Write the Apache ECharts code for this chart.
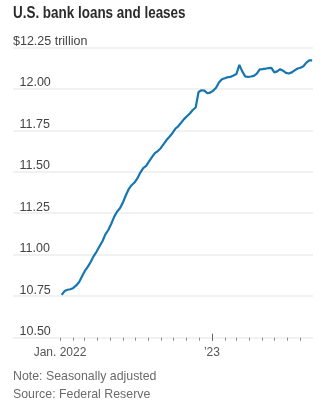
<!DOCTYPE html>
<html><head><meta charset="utf-8">
<script src="https://cdn.jsdelivr.net/npm/echarts@6/dist/echarts.min.js"></script>
<style>html,body{margin:0;padding:0;background:#fff}#c{width:336px;height:410px}</style>
</head><body><div id="c"></div>
<script>
const titleText = 'U.S. bank loans and leases';
const noteText = 'Note: Seasonally adjusted';
const sourceText = 'Source: Federal Reserve';

// weekly observations (Wednesdays), first week and count
const firstWeek = '2022-01-05';
const values = [
  10.758, 10.781, 10.789, 10.792, 10.800, 10.815, 10.836, 10.870, 10.904, 10.928,
  10.958, 10.992, 11.019, 11.051, 11.081, 11.123, 11.149, 11.185, 11.228, 11.259,
  11.280, 11.314, 11.357, 11.395, 11.419, 11.435, 11.460, 11.495, 11.522, 11.535,
  11.562, 11.588, 11.612, 11.625, 11.642, 11.666, 11.691, 11.711, 11.732, 11.759,
  11.774, 11.795, 11.817, 11.834, 11.851, 11.872, 11.887, 11.981, 11.991, 11.989,
  11.973, 11.977, 11.988, 12.006, 12.038, 12.057, 12.063, 12.070, 12.072, 12.080,
  12.089, 12.144, 12.105, 12.075, 12.071, 12.074, 12.078, 12.091, 12.117, 12.118,
  12.121, 12.125, 12.126, 12.099, 12.105, 12.118, 12.109, 12.096, 12.092, 12.099,
  12.111, 12.122, 12.127, 12.136, 12.158, 12.171, 12.171
];

const yTicks = [10.5, 10.75, 11, 11.25, 11.5, 11.75, 12, 12.25];
const yTickLabels = ['10.50', '10.75', '11.00', '11.25', '11.50', '11.75', '12.00', '$12.25 trillion'];

const monthTicks = ['2022-01-01','2022-02-01','2022-03-01','2022-04-01','2022-05-01','2022-06-01',
  '2022-07-01','2022-08-01','2022-09-01','2022-10-01','2022-11-01','2022-12-01',
  '2023-01-01','2023-02-01','2023-03-01','2023-04-01','2023-05-01','2023-06-01',
  '2023-07-01','2023-08-01'];
const xLabelTicks = ['2022-01-01', '2023-01-01'];
const xLabels = ['Jan. 2022', '\u201923'];
const xRange = ['2021-09-10', '2023-09-01'];

const DAY = 86400000;
const t0 = Date.parse(firstWeek);
const dates = values.map((v, i) => t0 + i * 7 * DAY);
const seriesData = values.map((v, i) => [dates[i], v]);
const labelTs = xLabelTicks.map(d => Date.parse(d));

const fam = '"Liberation Sans", Arial, sans-serif';
const chart = echarts.init(document.getElementById('c'), null, {renderer: 'canvas'});
const xMin = Date.parse(xRange[0]), xMax = Date.parse(xRange[1]);

chart.setOption({
  animation: false,
  backgroundColor: '#fff',
  textStyle: {fontFamily: fam},
  grid: {left: 13, right: 23, top: 47.3, bottom: 72.3, containLabel: false},
  graphic: [
    {type: 'text', x: 13, y: 6, scaleX: 0.84, style: {text: titleText, font: 'bold 16px ' + fam, fill: '#2b2b2b'}},
    {type: 'text', x: 13, y: 370, scaleX: 0.95, style: {text: noteText, font: '13px ' + fam, fill: '#6b6b6b'}},
    {type: 'text', x: 13, y: 388, scaleX: 0.95, style: {text: sourceText, font: '13px ' + fam, fill: '#6b6b6b'}}
  ],
  xAxis: [
    {
      type: 'value', min: xMin, max: xMax, position: 'bottom',
      axisLine: {show: false},
      splitLine: {show: false},
      axisTick: {show: true, length: 3, customValues: monthTicks.map(d => Date.parse(d)),
        lineStyle: {color: '#8a8a8a', width: 1}},
      axisLabel: {show: true, margin: 9, fontSize: 12, color: '#555', fontFamily: fam,
        customValues: labelTs,
        formatter: function (v) {
          const i = labelTs.indexOf(v);
          return i >= 0 ? xLabels[i] : '';
        }}
    },
    {
      type: 'value', min: xMin, max: xMax, position: 'bottom', offset: -4,
      axisLine: {show: false},
      splitLine: {show: false},
      axisTick: {show: true, length: 7, customValues: [labelTs[1]],
        lineStyle: {color: '#666', width: 1}},
      axisLabel: {show: false}
    }
  ],
  yAxis: {
    type: 'value', min: yTicks[0], max: yTicks[yTicks.length - 1], interval: 0.25,
    axisLine: {show: false}, axisTick: {show: false},
    splitLine: {show: true, lineStyle: {color: '#ececec', width: 1.5}},
    axisLabel: {
      inside: true, margin: 0, verticalAlign: 'bottom', fontSize: 12.5, color: '#444',
      fontFamily: fam, padding: [0, 0, 0, 0], lineHeight: 12,
      formatter: function (v) {
        const i = yTicks.findIndex(t => Math.abs(t - v) < 1e-6);
        const s = i >= 0 ? yTickLabels[i] : '';
        return i === yTicks.length - 1 ? '{t|' + s + '}' : '{n|' + s + '}';
      },
      rich: {
        n: {padding: [0, 0, 0, 6.5], fontSize: 12.5, lineHeight: 12, color: '#444', fontFamily: fam},
        t: {fontSize: 12.5, lineHeight: 12, color: '#444', fontFamily: fam}
      }
    }
  },
  series: [{
    type: 'line', xAxisIndex: 0, data: seriesData, showSymbol: false, symbol: 'none',
    lineStyle: {color: '#1677b0', width: 2.2}, smooth: false
  }]
});
</script>
</body></html>
